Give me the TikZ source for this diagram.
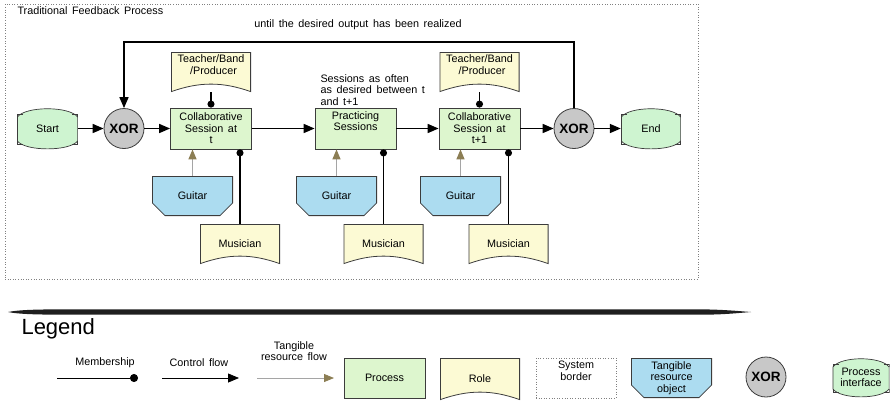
\documentclass[tikz,border=0pt]{standalone}
\usepackage{fontspec}
\setmainfont{Liberation Sans}
\usetikzlibrary{arrows.meta,calc}

\definecolor{procgreen}{RGB}{221,246,206}
\definecolor{ifacegreen}{RGB}{206,244,208}
\definecolor{roleyellow}{RGB}{252,250,212}
\definecolor{resblue}{RGB}{172,220,240}
\definecolor{xorgray}{RGB}{200,200,200}
\definecolor{edgegray}{RGB}{60,60,60}
\definecolor{flowgray}{RGB}{165,165,165}
\definecolor{tipolive}{RGB}{140,126,84}

\newcommand{\widewords}{\spaceskip=4.6pt plus 1pt minus 1pt\relax}

\tikzset{
	process/.style={rectangle, draw=edgegray, line width=0.8pt, fill=procgreen, minimum width=81pt, minimum height=41pt, align=center, inner sep=1pt},
	role/.style={rectangle, minimum width=80pt, minimum height=40pt, align=center, inner sep=1pt,
		path picture={\filldraw[fill=roleyellow, draw=edgegray, line width=0.8pt]
			let \p1=(path picture bounding box.north west), \p2=(path picture bounding box.south east) in
			(\x1+0.4pt,\y1-0.4pt) -- (\x2-0.4pt,\y1-0.4pt) -- (\x2-0.4pt,\y2+0.4pt)
			.. controls +(-28pt,10pt) and +(28pt,10pt) .. (\x1+0.4pt,\y2+0.4pt) -- cycle;}},
	resource/.style={rectangle, minimum width=81pt, minimum height=40pt, align=center, inner sep=1pt,
		path picture={\filldraw[fill=resblue, draw=edgegray, line width=0.8pt]
			let \p1=(path picture bounding box.north west), \p2=(path picture bounding box.south east) in
			(\x1+0.4pt,\y1-0.4pt) -- (\x2-0.4pt,\y1-0.4pt) -- (\x2-0.4pt,\y2+13pt) -- (\x2-13pt,\y2+0.4pt)
			-- (\x1+13pt,\y2+0.4pt) -- (\x1+0.4pt,\y2+13pt) -- cycle;}},
	iface/.style={rectangle, minimum width=61pt, minimum height=41pt, align=center, inner sep=1pt,
		path picture={
			\filldraw[fill=ifacegreen, draw=edgegray, line width=0.7pt]
			let \p1=(path picture bounding box.north west), \p2=(path picture bounding box.south east) in
			(\x1+0.4pt,\y1-9pt) .. controls +(8pt,11pt) and +(-8pt,11pt) .. (\x2-0.4pt,\y1-9pt)
			-- (\x2-0.4pt,\y2+8pt) .. controls +(-8pt,-10.5pt) and +(8pt,-10.5pt) .. (\x1+0.4pt,\y2+8pt) -- cycle;
			\draw[edgegray, line width=0.7pt]
			let \p1=(path picture bounding box.north west), \p2=(path picture bounding box.south east) in
			(\x1+0.4pt,\y1-9pt) -- (\x1+0.4pt,\y1-6pt) -- (\x1+6pt,\y1-6pt)
			(\x2-0.4pt,\y1-9pt) -- (\x2-0.4pt,\y1-6pt) -- (\x2-6pt,\y1-6pt)
			(\x1+0.4pt,\y2+8pt) -- (\x1+0.4pt,\y2+5pt) -- (\x1+6pt,\y2+5pt)
			(\x2-0.4pt,\y2+8pt) -- (\x2-0.4pt,\y2+5pt) -- (\x2-6pt,\y2+5pt);}},
	xor/.style={circle, draw=edgegray, line width=0.8pt, fill=xorgray, minimum size=40pt, inner sep=0pt, font=\fontsize{13.5}{13.5}\selectfont\bfseries},
	sysborder/.style={rectangle, draw=gray, dotted, line width=0.6pt, align=center, inner sep=1pt},
	ctrl/.style={draw=black, line width=1.6pt, -{Triangle[length=11pt,width=9pt]}},
	memb/.style={draw=black, line width=1.3pt, -{Circle[length=7pt]}},
	resflow/.style={draw=flowgray, line width=1.3pt, -{Triangle[length=10pt,width=8pt,color=tipolive]}}
}

\begin{document}
\begin{tikzpicture}[x=1pt, y=-1pt, font=\fontsize{10.8}{11.5}\selectfont\widewords]
	\useasboundingbox (0,0) rectangle (890,400);

	% System border
	\node[sysborder, minimum width=693pt, minimum height=275pt] (border) at (351.5,141.5) {};
	\node[anchor=west] (title) at (14,11) {Traditional Feedback Process};

	% Main control flow
	\node[iface] (start) at (47.5,128.5) {Start};
	\node[xor] (xor1) at (124,128.5) {XOR};
	\node[process] (sess1) at (211,128.5) {Collaborative\\Session at\\t};
	\node[process] (practice) at (355.5,128.5) {Practicing\\Sessions\\\strut};
	\node[process] (sess2) at (479.5,128.5) {Collaborative\\Session at\\t+1};
	\node[xor] (xor2) at (574,128.5) {XOR};
	\node[iface, minimum width=60pt] (end) at (651,128.5) {End};

	% Roles and resources
	\node[role] (teacher1) at (211,72) {Teacher/Band\\\hspace*{5pt}/Producer\\\strut};
	\node[role] (teacher2) at (479.5,72) {Teacher/Band\\\hspace*{5pt}/Producer\\\strut};
	\node[resource] (guitar1) at (192.5,196) {Guitar};
	\node[resource] (guitar2) at (336.5,196) {Guitar};
	\node[resource] (guitar3) at (460.5,196) {Guitar};
	\node[role] (musician1) at (240,244) {Musician};
	\node[role] (musician2) at (383.5,244) {Musician};
	\node[role] (musician3) at (508.5,244) {Musician};

	% Annotations
	\node[anchor=west, align=left] (often) at (317,90) {Sessions as often\\as desired between t\\and t+1};
	\coordinate (loopcorner) at (124,42);
	\node (until) at (358,25) {until the desired output has been realized};

	% Control flow arrows
	\draw[ctrl] (start) -- (xor1);
	\draw[ctrl] (xor1) -- (sess1);
	\draw[ctrl] (sess1) -- (practice);
	\draw[ctrl] (practice) -- (sess2);
	\draw[ctrl] (sess2) -- (xor2);
	\draw[ctrl] (xor2) -- (end);
	\draw[ctrl] (xor2.north) |- (loopcorner) -- (xor1.north);

	% Membership and resource flows
	\draw[memb] (teacher1.south) -- (sess1.north);
	\draw[memb] (teacher2.south) -- (sess2.north);
	\draw[memb] (musician1.north) -- (musician1.north |- sess1.south);
	\draw[memb] (musician2.north) -- (musician2.north |- practice.south);
	\draw[memb] (musician3.north) -- (musician3.north |- sess2.south);
	\draw[resflow] (guitar1.north) -- (guitar1.north |- sess1.south);
	\draw[resflow] (guitar2.north) -- (guitar2.north |- practice.south);
	\draw[resflow] (guitar3.north) -- (guitar3.north |- sess2.south);

	% Legend separator
	\fill[black!88] (8,312) .. controls (20,309.6) and (40,309.3) .. (75,309.3) -- (700,309.3)
		.. controls (725,309.6) and (740,311.2) .. (751,312) .. controls (740,312.8) and (725,314.7) .. (700,314.7)
		-- (75,314.7) .. controls (40,314.7) and (20,314.4) .. cycle;
	\node[anchor=base west, font=\fontsize{22}{24}\selectfont] (legend) at (18,334) {Legend};

	% Legend entries
	\node (lmemb) at (105,363) {Membership};
	\coordinate (memba) at (57,378);
	\coordinate (membb) at (138,378);
	\draw[memb, line width=0.8pt, -{Circle[length=8pt]}] (memba) -- (membb);
	\node (lctrl) at (199,363) {Control flow};
	\coordinate (ctrla) at (162,378);
	\coordinate (ctrlb) at (239,378);
	\draw[ctrl, line width=0.8pt] (ctrla) -- (ctrlb);
	\node[align=center] (lres) at (294,351) {Tangible\\resource flow};
	\coordinate (resa) at (257,378);
	\coordinate (resb) at (334,378);
	\draw[resflow, line width=0.8pt] (resa) -- (resb);
	\node[process, minimum height=40pt] (lprocess) at (384.5,378) {Process};
	\node[role, minimum height=42pt] (lrole) at (480,379) {Role};
	\node[sysborder, minimum width=80pt, minimum height=40pt] (lborder) at (576,378) {System\\border\\\strut};
	\node[resource] (lresource) at (671.5,378) {Tangible\\resource\\object};
	\node[xor] (lxor) at (766,377) {XOR};
	\node[iface, minimum width=57pt, minimum height=39pt] (liface) at (861,377.5) {Process\\interface};
\end{tikzpicture}
\end{document}
